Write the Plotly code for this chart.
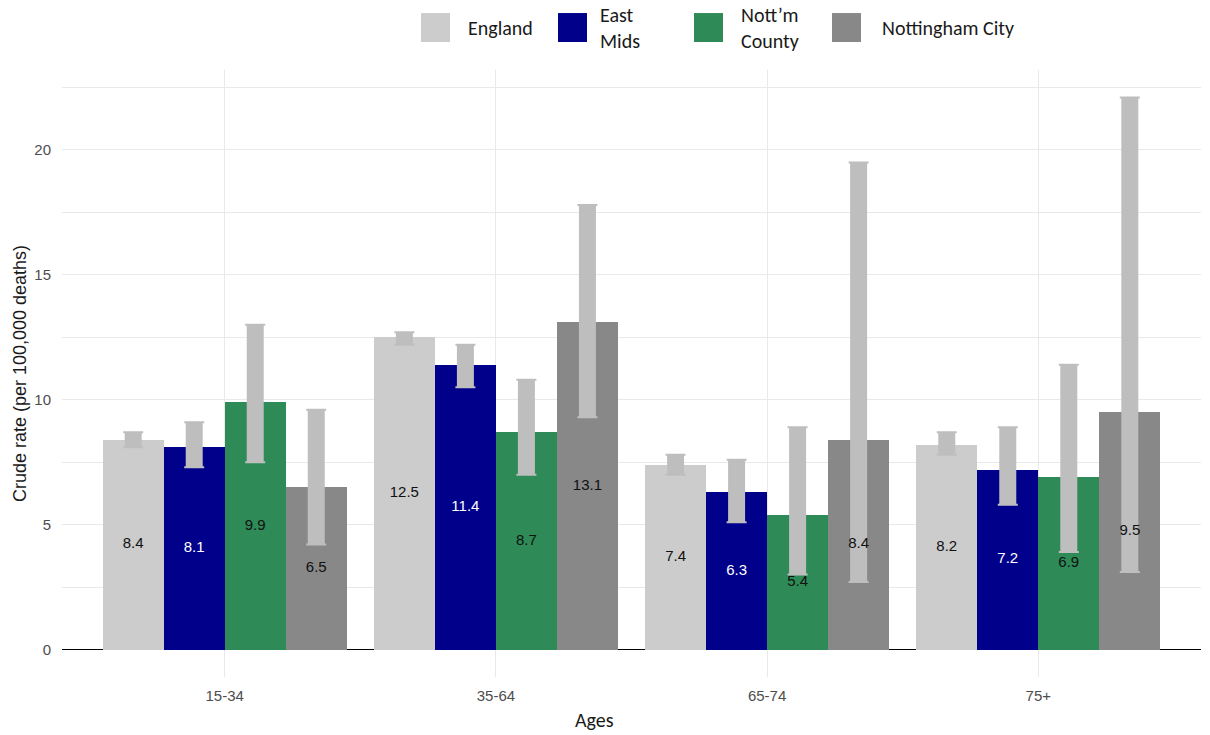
import plotly.graph_objects as go

# ---- data -------------------------------------------------------------
ages = ["15-34", "35-64", "65-74", "75+"]
series_names = ["England", "East Mids", "Nott’m County", "Nottingham City"]
legend_labels = ["England", "East<br>Mids", "Nott’m<br>County", "Nottingham City"]

england = [8.4, 12.5, 7.4, 8.2]
east_mids = [8.1, 11.4, 6.3, 7.2]
notts_county = [9.9, 8.7, 5.4, 6.9]
notts_city = [6.5, 13.1, 8.4, 9.5]

# 95% confidence intervals
england_lo = [8.1, 12.2, 7.0, 7.8]
england_hi = [8.7, 12.7, 7.8, 8.7]
east_mids_lo = [7.3, 10.5, 5.1, 5.8]
east_mids_hi = [9.1, 12.2, 7.6, 8.9]
notts_county_lo = [7.5, 7.0, 3.0, 3.9]
notts_county_hi = [13.0, 10.8, 8.9, 11.4]
notts_city_lo = [4.2, 9.3, 2.7, 3.1]
notts_city_hi = [9.6, 17.8, 19.5, 22.1]

values = [england, east_mids, notts_county, notts_city]
lows = [england_lo, east_mids_lo, notts_county_lo, notts_city_lo]
highs = [england_hi, east_mids_hi, notts_county_hi, notts_city_hi]

# ---- styling ----------------------------------------------------------
bar_colors = ["#cccccc", "#00008b", "#2e8b57", "#888888"]
label_colors = ["#111111", "#ffffff", "#111111", "#111111"]
ci_color = "#bebebe"
font_family = "Liberation Sans, Arial, sans-serif"
legend_family = "Carlito, Lato, sans-serif"

W, H = 1210, 735
M_L, M_R, M_T, M_B = 62, 9, 70, 57.5
PW, PH = W - M_L - M_R, H - M_T - M_B

group_width = 0.9
n = len(series_names)
bar_w = group_width / n

fig = go.Figure()

xs_all = []
for i in range(n):
    offset = -group_width / 2 + bar_w * (i + 0.5)
    xs = [k + offset for k in range(len(ages))]
    xs_all.append(xs)
    fig.add_trace(go.Bar(
        x=xs, y=values[i], width=bar_w, name=series_names[i],
        marker=dict(color=bar_colors[i], line=dict(width=0)),
        showlegend=False, hoverinfo="y",
    ))

# confidence intervals: thin end caps, then the thick body over them
for i in range(n):
    plus = [h - v for h, v in zip(highs[i], values[i])]
    minus = [v - l for v, l in zip(values[i], lows[i])]
    for thick, cap in ((2, 10), (17, 0)):
        fig.add_trace(go.Scatter(
            x=xs_all[i], y=values[i], mode="markers",
            marker=dict(size=1, color="rgba(0,0,0,0)"),
            error_y=dict(type="data", array=plus, arrayminus=minus,
                         color=ci_color, thickness=thick, width=cap),
            showlegend=False, hoverinfo="skip",
        ))

# value labels at mid-height of each bar
for i in range(n):
    fig.add_trace(go.Scatter(
        x=xs_all[i], y=[v / 2 for v in values[i]], mode="text",
        text=[f"{v:.1f}" for v in values[i]],
        textfont=dict(family=font_family, size=15, color=label_colors[i]),
        showlegend=False, hoverinfo="skip",
    ))


def px_x(p):
    return (p - M_L) / PW


def px_y(p):
    return (H - M_B - p) / PH


# custom legend across the top
swatch_left = [421, 558, 694, 832]
text_left = [466, 598, 739, 880]
shapes = []
annotations = []
for i in range(n):
    shapes.append(dict(
        type="rect", xref="paper", yref="paper",
        x0=px_x(swatch_left[i]), x1=px_x(swatch_left[i] + 29),
        y0=px_y(42), y1=px_y(13),
        fillcolor=bar_colors[i], line=dict(width=0),
    ))
    annotations.append(dict(
        xref="paper", yref="paper", x=px_x(text_left[i]), y=px_y(27.5),
        xanchor="left", yanchor="middle", text=legend_labels[i],
        showarrow=False, align="left",
        font=dict(family=legend_family, size=20, color="#1a1a1a"),
    ))

# x-axis title
annotations.append(dict(
    xref="paper", yref="paper", x=px_x(594), y=px_y(721),
    xanchor="center", yanchor="middle", text="Ages", showarrow=False,
    font=dict(family=legend_family, size=20, color="#1a1a1a"),
))

fig.update_layout(
    width=W, height=H,
    margin=dict(l=M_L, r=M_R, t=M_T, b=M_B, pad=0),
    paper_bgcolor="white", plot_bgcolor="white",
    barmode="overlay", bargap=0,
    shapes=shapes, annotations=annotations,
    font=dict(family=font_family, color="#4d4d4d"),
)

fig.update_xaxes(
    range=[-0.6, len(ages) - 0.4],
    tickmode="array", tickvals=list(range(len(ages))), ticktext=ages,
    showgrid=True, gridcolor="#e9e9e9", gridwidth=1,
    zeroline=False, showline=False, ticks="",
    tickfont=dict(family=font_family, size=15, color="#4d4d4d"),
    ticklabelstandoff=8,
)

fig.update_yaxes(
    range=[-1.1, 23.2],
    tickmode="array", tickvals=[0, 5, 10, 15, 20],
    showgrid=True, gridcolor="#e9e9e9", gridwidth=1,
    minor=dict(dtick=2.5, showgrid=True, gridcolor="#e9e9e9", gridwidth=1),
    zeroline=True, zerolinecolor="#000000", zerolinewidth=1.3,
    showline=False, ticks="",
    tickfont=dict(family=font_family, size=15, color="#4d4d4d"),
    ticklabelstandoff=10,
    title=dict(text="Crude rate (per 100,000 deaths)", standoff=3,
               font=dict(family=font_family, size=18, color="#1a1a1a")),
)

fig.write_html("out.html")
